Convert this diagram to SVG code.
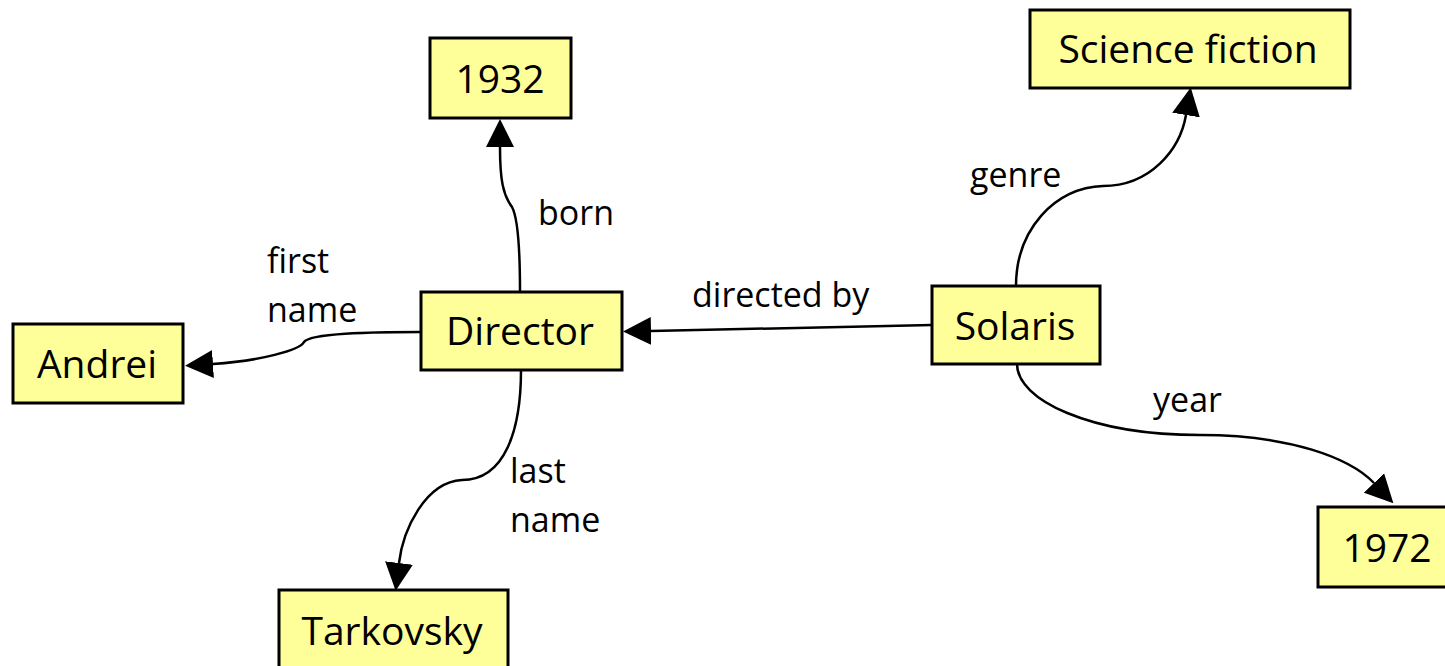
<svg xmlns="http://www.w3.org/2000/svg" width="1445" height="666" viewBox="0 0 1445 666">
<style>
.node rect{fill:#FFFF99;stroke:#000;stroke-width:3}
.node text{font-family:"Open Sans","Liberation Sans",sans-serif;font-size:39px;text-anchor:middle;fill:#000}
.edge{fill:none;stroke:#000;stroke-width:2.5;marker-end:url(#arr)}
.lbl{font-family:"Open Sans","Liberation Sans",sans-serif;font-size:34px;fill:#000}
</style>
<defs>
<marker id="arr" markerUnits="userSpaceOnUse" markerWidth="28" markerHeight="28" viewBox="0 0 28 28" refX="0" refY="14" orient="auto">
<path d="M0,0 L28,14 L0,28 z" fill="#000"/>
</marker>
</defs>
<rect width="1445" height="666" fill="#fff"/>
<g id="connectors">
<path class="edge" d="M520,292 C520,250 518,218 512,207 C503,195 500,180 500,147"/>
<path class="edge" d="M932,325 L651,331"/>
<path class="edge" d="M421,332 C370,332 310,333 304,342 C300,350 260,361 213,364"/>
<path class="edge" d="M521,370 C521,430 505,480 462,480 C425,482 403,530 399,563"/>
<path class="edge" d="M1016,286 C1016,230 1055,187 1103,186 C1150,186 1180,150 1186,115"/>
<path class="edge" d="M1017,364 C1017,400 1090,435 1200,435 C1290,435 1350,458 1374,483"/>
</g>
<g id="labels">
<text class="lbl" x="538" y="225">born</text>
<text class="lbl" x="267" y="273">first</text>
<text class="lbl" x="267" y="322">name</text>
<text class="lbl" x="692" y="307">directed by</text>
<text class="lbl" x="970" y="187">genre</text>
<text class="lbl" x="1153" y="412">year</text>
<text class="lbl" x="510" y="483">last</text>
<text class="lbl" x="510" y="532">name</text>
</g>
<g id="n1932" class="node"><rect x="430" y="38" width="141" height="80"/><text x="500" y="93">1932</text></g>
<g id="director" class="node"><rect x="421" y="292" width="201" height="78"/><text x="520" y="345">Director</text></g>
<g id="andrei" class="node"><rect x="13" y="324" width="170" height="79"/><text x="97" y="378">Andrei</text></g>
<g id="tarkovsky" class="node"><rect x="279" y="590" width="229" height="82"/><text x="392" y="645">Tarkovsky</text></g>
<g id="scifi" class="node"><rect x="1030" y="10" width="320" height="78"/><text x="1188" y="63">Science fiction</text></g>
<g id="solaris" class="node"><rect x="932" y="286" width="168" height="78"/><text x="1015" y="340">Solaris</text></g>
<g id="n1972" class="node"><rect x="1318" y="507" width="140" height="80"/><text x="1387" y="562">1972</text></g>
</svg>
